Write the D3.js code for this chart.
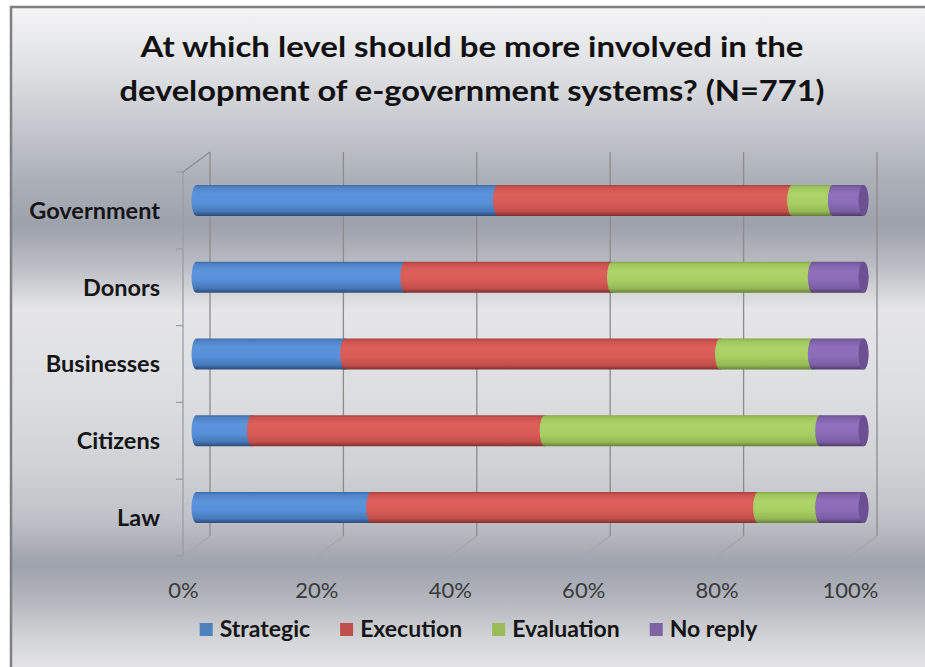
<!DOCTYPE html>
<html>
<head>
<meta charset="utf-8">
<script src="https://cdn.jsdelivr.net/npm/d3@7"></script>
<style>
  html, body { margin: 0; padding: 0; background: #ffffff; }
  svg { display: block; }
  text { font-family: Lato, "Open Sans", sans-serif; }
</style>
</head>
<body>
<div id="chart"></div>
<script>
// ---- data -------------------------------------------------------------
const titleLines = [
  "At which level should be more involved in the",
  "development of e-government systems? (N=771)"
];
const categories = ["Government", "Donors", "Businesses", "Citizens", "Law"];
const seriesNames = ["Strategic", "Execution", "Evaluation", "No reply"];
const strategic  = [45.2, 31.3, 22.3,  8.3, 26.2];
const execution  = [44.1, 31.0, 56.2, 43.9, 58.0];
const evaluation = [ 6.1, 30.1, 13.9, 41.3,  9.3];
const noReply    = [ 4.6,  7.6,  7.6,  6.5,  6.5];
const tickValues = [0, 20, 40, 60, 80, 100];

const seriesColors = ["#4f81bd", "#c0504d", "#9bbb59", "#8064a2"];
// cylinder shading stops (top -> bottom) for each series
const shading = [
  ["#3d6aa6", "#4f83c6", "#5c94dc", "#5790d8", "#4577b8", "#2a4a78"],
  ["#a8413e", "#cc524e", "#de605b", "#d95b56", "#c24e4a", "#7f302e"],
  ["#86a64a", "#9ec65c", "#add468", "#a7cf62", "#95b955", "#66803a"],
  ["#6a4f8c", "#7f61a8", "#9070bd", "#8b6cb8", "#7a5da3", "#4e3a6a"]
];
const shadeOffsets = [0, 0.08, 0.3, 0.6, 0.86, 1];

// ---- layout -----------------------------------------------------------
const W = 925, H = 667;
const frame = { x: 11, y: 7 };
const depth = { dx: 27, dy: 20 };           // back wall offset from front plane
const front = { left: 183, right: 850, top: 172, bottom: 556 };
const barRy = 15.5, capRx = 5;

const rows = categories.map((c, i) => ({
  category: c,
  "Strategic": strategic[i],
  "Execution": execution[i],
  "Evaluation": evaluation[i],
  "No reply": noReply[i]
}));
const stacked = d3.stack().keys(seriesNames)(rows);

const xFront = d3.scaleLinear().domain([0, 100]).range([front.left, front.right]);
const xBack = v => xFront(v) + depth.dx;
const xMid = v => xFront(v) + depth.dx / 2;
const yFront = d3.scaleBand().domain(categories).range([front.top, front.bottom]);
const yMid = c => yFront(c) + yFront.bandwidth() / 2 - depth.dy / 2;

const svg = d3.select("#chart").append("svg")
  .attr("width", W).attr("height", H);

const defs = svg.append("defs");

// background banding
const bg = defs.append("linearGradient").attr("id", "bgGrad")
  .attr("x1", 0).attr("y1", 0).attr("x2", 0).attr("y2", 1);
[
  [0.000, "#f4f4f5"], [0.080, "#e3e4e7"], [0.186, "#c4c7cd"],
  [0.255, "#adb1ba"], [0.330, "#9da1ac"], [0.390, "#b9bcc3"],
  [0.459, "#e6e6e8"], [0.595, "#dcdde0"], [0.700, "#cfd1d5"],
  [0.777, "#bec1c7"], [0.845, "#9ea2ad"], [0.898, "#b3b6bd"],
  [0.959, "#d4d5d8"], [1.000, "#e4e4e6"]
].forEach(([o, c]) => bg.append("stop").attr("offset", o).attr("stop-color", c));

shading.forEach((stops, i) => {
  const g = defs.append("linearGradient").attr("id", "cyl" + i)
    .attr("x1", 0).attr("y1", 0).attr("x2", 0).attr("y2", 1);
  stops.forEach((c, k) => g.append("stop").attr("offset", shadeOffsets[k]).attr("stop-color", c));
});

// chart area with frame on the top and left edges
svg.append("rect")
  .attr("x", frame.x).attr("y", frame.y)
  .attr("width", W - frame.x).attr("height", H - frame.y)
  .attr("fill", "url(#bgGrad)");
svg.append("path")
  .attr("d", `M${frame.x},${H} L${frame.x},${frame.y} L${W},${frame.y}`)
  .attr("fill", "none").attr("stroke", "#808080").attr("stroke-width", 2.5);

// title
svg.append("g").selectAll("text").data(titleLines).join("text")
  .attr("x", 472)
  .attr("y", (d, i) => 57 + i * 44)
  .attr("text-anchor", "middle")
  .attr("font-size", 28.5).attr("font-weight", 700).attr("fill", "#111")
  .attr("textLength", (d, i) => [663, 705][i])
  .attr("lengthAdjust", "spacingAndGlyphs")
  .text(d => d);

// ---- 3D frame: back wall gridlines, floor edges, side wall -------------
const grid = svg.append("g").attr("fill", "none").attr("stroke", "#8c8c8c").attr("stroke-width", 1.3);
const backTop = front.top - depth.dy, backBottom = front.bottom - depth.dy;

grid.selectAll("line.v").data(tickValues).join("line")
  .attr("class", "v")
  .attr("x1", d => xBack(d)).attr("x2", d => xBack(d))
  .attr("y1", backTop).attr("y2", backBottom);

grid.selectAll("line.floor").data(tickValues).join("line")
  .attr("class", "floor")
  .attr("stroke", "#a3a6ad")
  .attr("x1", d => xBack(d)).attr("x2", d => xFront(d))
  .attr("y1", backBottom).attr("y2", front.bottom);

// side wall: front vertical axis line and the top edge
grid.append("line")
  .attr("stroke", "#9a9da4")
  .attr("x1", front.left).attr("x2", front.left)
  .attr("y1", front.top).attr("y2", front.bottom);
grid.append("line")
  .attr("x1", xBack(0)).attr("x2", front.left)
  .attr("y1", backTop).attr("y2", front.top);

// category boundary ticks on the front axis
const bounds = categories.map(c => yFront(c)).concat([front.bottom]);
grid.selectAll("line.tick").data(bounds).join("line")
  .attr("class", "tick")
  .attr("stroke", "#9a9da4")
  .attr("x1", front.left - 7).attr("x2", front.left)
  .attr("y1", d => d).attr("y2", d => d);

// ---- axes -------------------------------------------------------------
const xAxis = d3.axisBottom(xFront)
  .tickValues(tickValues)
  .tickFormat(d => d + "%")
  .tickSize(0).tickPadding(0);
const xg = svg.append("g").attr("transform", "translate(0,582)").call(xAxis);
xg.select(".domain").remove();
xg.selectAll("text")
  .attr("font-family", "Lato, sans-serif")
  .attr("font-size", 22).attr("fill", "#3a3a3a");

const yAxis = d3.axisLeft(yFront).tickSize(0).tickPadding(23);
const yg = svg.append("g").attr("transform", `translate(${front.left},0)`).call(yAxis);
yg.select(".domain").remove();
yg.selectAll("text")
  .attr("font-family", "Lato, sans-serif")
  .attr("font-size", 23.5).attr("font-weight", 700).attr("fill", "#151515")
  .attr("dy", "0.36em");

// ---- stacked cylinders ------------------------------------------------
function cylinderPath(a, b, cy) {
  const xa = xMid(a), xb = xMid(b);
  return `M${xa},${cy - barRy} L${xb},${cy - barRy}` +
    ` A${capRx},${barRy} 0 0 1 ${xb},${cy + barRy}` +
    ` L${xa},${cy + barRy}` +
    ` A${capRx},${barRy} 0 0 1 ${xa},${cy - barRy} Z`;
}

const bars = svg.append("g");
stacked.forEach((layer, si) => {
  bars.append("g").selectAll("path").data(layer).join("path")
    .attr("d", d => cylinderPath(d[0], d[1], yMid(d.data.category)))
    .attr("fill", `url(#cyl${si})`);
});

// end caps of the last segment
const lastLayer = stacked[stacked.length - 1];
bars.append("g").selectAll("ellipse").data(lastLayer).join("ellipse")
  .attr("cx", d => xMid(d[1]))
  .attr("cy", d => yMid(d.data.category))
  .attr("rx", capRx).attr("ry", barRy)
  .attr("fill", "#6d5093");

// ---- legend -----------------------------------------------------------
const legend = svg.append("g");
const sq = 13, gapSq = 7, gapItem = 30, legendBaseline = 637;
const items = legend.selectAll("g").data(seriesNames).join("g");
items.append("rect")
  .attr("width", sq).attr("height", sq)
  .attr("y", legendBaseline - 14)
  .attr("fill", (d, i) => seriesColors[i]);
items.append("text")
  .attr("x", sq + gapSq)
  .attr("y", legendBaseline)
  .attr("font-size", 23).attr("font-weight", 700).attr("fill", "#151515")
  .text(d => d);
let widths = [];
items.each(function () { widths.push(sq + gapSq + d3.select(this).select("text").node().getComputedTextLength()); });
const total = d3.sum(widths) + gapItem * (widths.length - 1);
let cursor = 478.5 - total / 2;
items.attr("transform", (d, i) => {
  const x = cursor;
  cursor += widths[i] + gapItem;
  return `translate(${x},0)`;
});
</script>
</body>
</html>
